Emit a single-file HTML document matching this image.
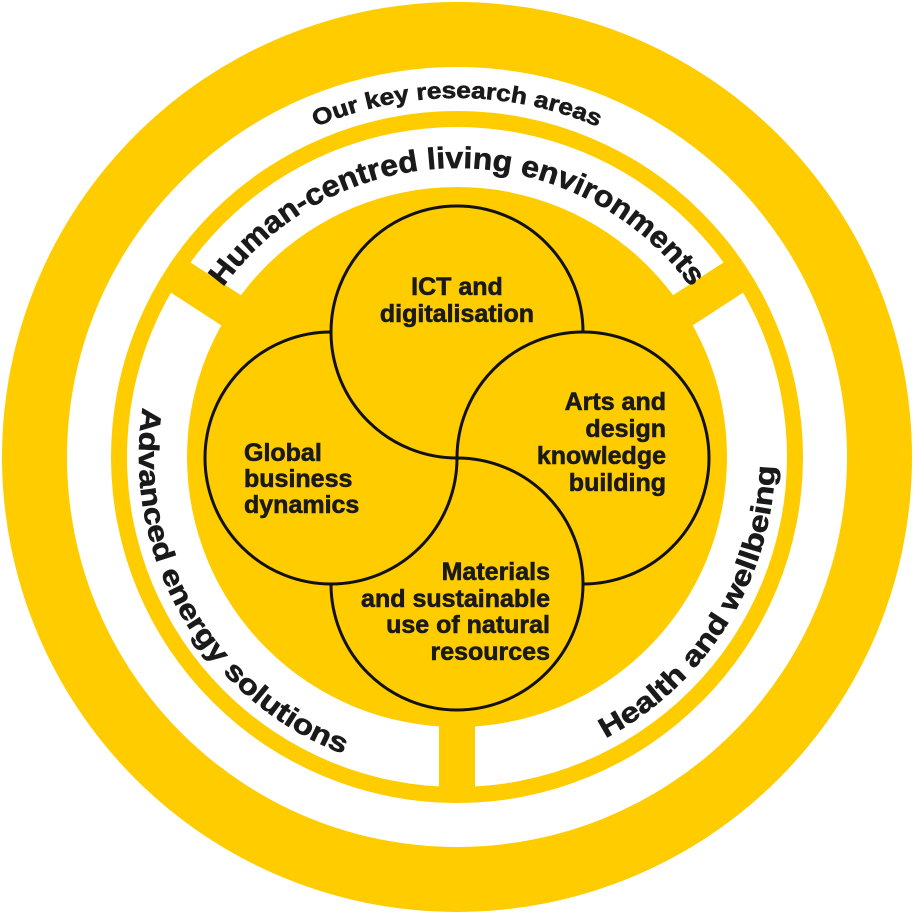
<!DOCTYPE html>
<html><head><meta charset="utf-8"><style>
html,body{margin:0;padding:0;background:#fff;}
svg{display:block;}
text{font-family:"Liberation Sans",Arial,sans-serif;font-weight:bold;fill:#1a1a1a;stroke:#1a1a1a;stroke-width:0.6;}
</style></head><body>
<svg width="914" height="913" viewBox="0 0 914 913" xmlns="http://www.w3.org/2000/svg">
<defs>
<path id="pOur" d="M98 457 A359 359 0 0 1 816 457"/>
<path id="pHum" d="M168 457 A289 289 0 0 1 746 457"/>
<path id="pCcw" d="M457 139 A318 318 0 0 0 139 457 A318 318 0 0 0 457 775 A318 318 0 0 0 775 457 A318 318 0 0 0 457 139"/>
</defs>
<circle cx="457" cy="457" r="455" fill="#FFCC00"/>
<circle cx="457" cy="457" r="390" fill="#fff"/>
<circle cx="457" cy="457" r="346" fill="#FFCC00"/>
<circle cx="457" cy="457" r="330" fill="#fff"/>
<circle cx="457" cy="457" r="270" fill="#FFCC00"/>
<g fill="#FFCC00">
<rect x="260" y="-18" width="80" height="36" transform="translate(457 457) rotate(-147)"/>
<rect x="260" y="-18" width="80" height="36" transform="translate(457 457) rotate(-33)"/>
<rect x="260" y="-18" width="80" height="36" transform="translate(457 457) rotate(90)"/>
</g>
<text font-size="23" text-anchor="middle"><textPath href="#pOur" startOffset="50%" textLength="290" lengthAdjust="spacingAndGlyphs">Our key research areas</textPath></text>
<text font-size="30" text-anchor="middle"><textPath href="#pHum" startOffset="50%" textLength="545" lengthAdjust="spacingAndGlyphs">Human-centred living environments</textPath></text>
<text font-size="28" text-anchor="middle"><textPath href="#pCcw" startOffset="666" textLength="433" lengthAdjust="spacingAndGlyphs">Advanced energy solutions</textPath></text>
<text font-size="28" text-anchor="middle"><textPath href="#pCcw" startOffset="1321" textLength="336" lengthAdjust="spacingAndGlyphs">Health and wellbeing</textPath></text>
<g fill="none" stroke="#111" stroke-width="3">
<path d="M457 458 A126 126 0 1 1 583 332"/>
<path d="M457 458 A126 126 0 1 1 583 584"/>
<path d="M457 458 A126 126 0 1 1 331 584"/>
<path d="M457 458 A126 126 0 1 1 331 332"/>
</g>
<g font-size="25">
<text x="457" y="295" text-anchor="middle">ICT and</text>
<text x="457" y="322" text-anchor="middle">digitalisation</text>
<text x="666" y="410" text-anchor="end">Arts and</text>
<text x="666" y="437" text-anchor="end">design</text>
<text x="666" y="464" text-anchor="end">knowledge</text>
<text x="666" y="491" text-anchor="end">building</text>
<text x="244" y="461">Global</text>
<text x="244" y="487">business</text>
<text x="244" y="513">dynamics</text>
<text x="550" y="580" text-anchor="end">Materials</text>
<text x="550" y="607" text-anchor="end">and sustainable</text>
<text x="550" y="633" text-anchor="end">use of natural</text>
<text x="550" y="660" text-anchor="end">resources</text>
</g>
</svg>
</body></html>
